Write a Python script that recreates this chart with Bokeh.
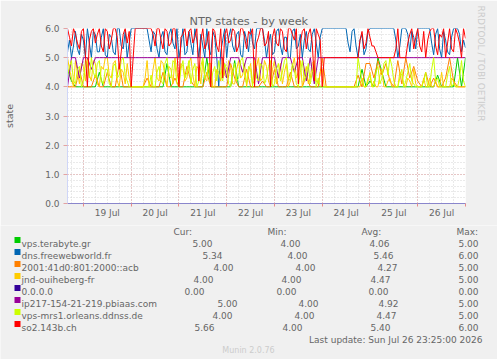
import pandas as pd
from bokeh.plotting import figure
from bokeh.layouts import column
from bokeh.models import Range1d, FixedTicker, Title
from bokeh.core.properties import value
from bokeh.embed import file_html
from bokeh.resources import INLINE

# ---------------- data ----------------
names = ["vps.terabyte.gr", "dns.freewebworld.fr", "2001:41d0:801:2000::acb",
         "jnd-ouiheberg-fr", "0.0.0.0", "ip217-154-21-219.pbiaas.com",
         "vps-mrs1.orleans.ddnss.de", "so2.143b.ch"]
colors = ["#00CC00", "#0066B3", "#FF8000", "#FFCC00", "#330099", "#990099", "#CCFF00", "#FF0000"]

cur_vals = ["5.00", "5.34", "4.00", "4.00", "0.00", "5.00", "4.00", "5.66"]
min_vals = ["4.00", "4.00", "4.00", "4.00", "0.00", "4.00", "4.00", "4.00"]
avg_vals = ["4.06", "5.46", "4.27", "4.47", "0.00", "4.92", "4.47", "5.40"]
max_vals = ["5.00", "6.00", "5.00", "5.00", "0.00", "5.00", "5.00", "6.00"]
headers = ["Cur:", "Min:", "Avg:", "Max:"]

day_labels = ["19 Jul", "20 Jul", "21 Jul", "22 Jul", "23 Jul", "24 Jul", "25 Jul", "26 Jul"]
y_labels = ["0.0", "1.0", "2.0", "3.0", "4.0", "5.0", "6.0"]

# 2-hourly samples from 2026-07-18 16:00 (101 values)
green = [4.6, 4.2, 4.0, 4.0, 4.0, 4.0, 4.0, 4.0, 4.5, 4.0,
         4.0, 4.0, 4.0, 4.0, 4.0, 4.0, 4.0, 4.0, 4.0, 4.0,
         4.0, 4.0, 4.0, 4.0, 4.0, 4.8, 4.0, 4.0, 4.0, 4.0,
         4.0, 4.0, 4.0, 4.0, 4.0, 5.0, 4.0, 4.0, 4.0, 4.0,
         4.0, 4.0, 4.9, 4.0, 4.0, 4.0, 4.0, 4.0, 4.0, 4.0,
         4.0, 4.0, 4.0, 4.0, 4.0, 4.0, 4.0, 4.0, 4.0, 4.0,
         4.0, 4.0, 4.0, 4.0, 4.0, 4.0, 4.0, 4.0, 4.0, 4.0,
         4.0, 4.0, 4.0, 4.0, 4.6, 4.0, 4.2, 4.0, 5.0, 4.5,
         4.0, 4.0, 4.0, 4.0, 4.0, 4.0, 4.0, 4.0, 4.0, 4.0,
         4.0, 4.0, 4.0, 4.4, 4.0, 4.0, 4.0, 4.0, 5.0, 4.0,
         5.0]
orange = [4.0, 4.0, 4.0, 4.6, 4.0, 4.0, 4.0, 4.4, 4.0, 4.0,
          4.5, 4.0, 4.0, 4.8, 4.0, 4.0, 4.0, 4.0, 4.0, 4.0,
          4.3, 4.0, 4.0, 4.0, 4.5, 4.0, 4.0, 4.3, 4.0, 4.0,
          4.7, 4.2, 4.0, 4.0, 4.0, 4.5, 4.0, 4.0, 4.0, 4.0,
          4.0, 4.8, 4.3, 4.0, 4.0, 4.6, 4.0, 4.0, 4.0, 4.2,
          4.0, 4.0, 4.6, 4.0, 4.0, 4.0, 4.5, 4.0, 4.0, 4.0,
          4.4, 4.0, 4.0, 4.0, 5.0, 4.0, 4.0, 4.0, 4.0, 4.0,
          4.0, 4.0, 4.0, 4.4, 4.0, 4.8, 4.8, 4.3, 4.9, 4.4,
          4.8, 4.2, 4.0, 4.9, 4.1, 5.0, 4.3, 4.7, 4.2, 4.0,
          4.5, 4.0, 4.3, 4.0, 4.0, 4.3, 5.0, 4.2, 4.0, 4.0,
          4.0]
indigo = [0.0, 0.0, 0.0, 0.0, 0.0, 0.0, 0.0, 0.0, 0.0, 0.0,
          0.0, 0.0, 0.0, 0.0, 0.0, 0.0, 0.0, 0.0, 0.0, 0.0,
          0.0, 0.0, 0.0, 0.0, 0.0, 0.0, 0.0, 0.0, 0.0, 0.0,
          0.0, 0.0, 0.0, 0.0, 0.0, 0.0, 0.0, 0.0, 0.0, 0.0,
          0.0, 0.0, 0.0, 0.0, 0.0, 0.0, 0.0, 0.0, 0.0, 0.0,
          0.0, 0.0, 0.0, 0.0, 0.0, 0.0, 0.0, 0.0, 0.0, 0.0,
          0.0, 0.0, 0.0, 0.0, 0.0, 0.0, 0.0, 0.0, 0.0, 0.0,
          0.0, 0.0, 0.0, 0.0, 0.0, 0.0, 0.0, 0.0, 0.0, 0.0,
          0.0, 0.0, 0.0, 0.0, 0.0, 0.0, 0.0, 0.0, 0.0, 0.0,
          0.0, 0.0, 0.0, 0.0, 0.0, 0.0, 0.0, 0.0, 0.0, 0.0,
          0.0]
purple = [4.0, 5.0, 5.0, 4.3, 5.0, 5.0, 4.6, 5.0, 5.0, 5.0,
          5.0, 5.0, 5.0, 5.0, 5.0, 5.0, 5.0, 5.0, 5.0, 5.0,
          5.0, 5.0, 5.0, 5.0, 5.0, 5.0, 5.0, 5.0, 5.0, 5.0,
          5.0, 5.0, 5.0, 5.0, 5.0, 5.0, 5.0, 5.0, 5.0, 5.0,
          4.3, 5.0, 5.0, 5.0, 4.5, 5.0, 5.0, 5.0, 4.1, 5.0,
          5.0, 5.0, 5.0, 4.3, 5.0, 5.0, 5.0, 4.5, 5.0, 5.0,
          4.2, 5.0, 4.1, 5.0, 5.0, 5.0, 5.0, 5.0, 5.0, 5.0,
          5.0, 5.0, 5.0, 5.0, 5.0, 5.0, 5.0, 5.0, 5.0, 5.0,
          5.0, 5.0, 5.0, 5.0, 5.0, 5.0, 5.0, 5.0, 5.0, 5.0,
          5.0, 5.0, 5.0, 5.0, 5.0, 5.0, 5.0, 5.0, 5.0, 5.0,
          5.0]

# hourly samples from 2026-07-18 16:00 (201 values)
blue = [5.2, 5.6, 5.0, 5.4, 5.9, 5.3, 5.1, 5.8, 5.6, 5.0, 6.0, 5.5, 5.0, 5.9, 5.8, 5.2, 5.2, 5.7, 6.0, 5.1,
        5.0, 5.8, 5.7, 5.2, 5.1, 6.0, 6.0, 5.4, 5.3, 5.9, 5.0, 5.5, 6.0, 6.0, 6.0, 6.0, 6.0, 6.0, 6.0, 6.0,
        6.0, 5.6, 5.2, 5.9, 5.8, 5.3, 5.0, 5.7, 5.9, 5.2, 5.1, 5.8, 6.0, 5.5, 5.3, 6.0, 5.0, 5.4, 6.0, 5.1,
        5.2, 5.9, 5.5, 5.1, 6.0, 5.6, 5.0, 5.8, 5.4, 5.0, 6.0, 5.3, 5.1, 5.9, 5.7, 5.0, 4.0, 5.2, 5.6, 6.0,
        5.0, 5.7, 6.0, 5.4, 5.2, 5.8, 5.9, 5.1, 5.0, 5.9, 5.6, 5.2, 6.0, 5.5, 5.3, 6.0, 6.0, 6.0, 6.0, 5.6,
        5.0, 5.5, 5.8, 5.1, 5.2, 5.9, 6.0, 5.4, 5.1, 5.7, 5.7, 5.0, 5.0, 5.9, 6.0, 5.3, 5.4, 5.8, 5.0, 5.6,
        5.9, 5.3, 5.2, 5.8, 6.0, 5.5, 5.0, 5.7, 6.0, 6.0, 6.0, 6.0, 6.0, 6.0, 6.0, 6.0, 6.0, 6.0, 6.0, 6.0,
        6.0, 5.5, 5.2, 5.9, 6.0, 5.4, 5.0, 5.6, 5.8, 5.1, 5.3, 5.9, 6.0, 6.0, 6.0, 6.0, 6.0, 6.0, 6.0, 6.0,
        6.0, 6.0, 6.0, 6.0, 6.0, 5.6, 5.0, 5.4, 6.0, 6.0, 6.0, 5.8, 5.2, 5.9, 5.7, 5.3, 6.0, 6.0, 6.0, 6.0,
        6.0, 6.0, 6.0, 5.5, 5.1, 5.8, 6.0, 5.3, 5.0, 5.9, 5.6, 5.2, 5.1, 5.7, 6.0, 6.0, 6.0, 5.8, 5.2, 5.6,
        5.34]
yellow = [5.0, 4.6, 4.3, 4.0, 4.9, 4.5, 4.1, 4.8, 4.7, 4.2, 5.0, 4.4, 4.2, 4.9, 4.8, 4.1, 4.0, 4.7, 4.6, 5.0,
          5.0, 4.4, 4.3, 4.8, 4.9, 4.2, 4.0, 4.6, 4.5, 4.1, 4.8, 4.3, 4.0, 4.0, 4.0, 4.0, 4.0, 4.0, 4.0, 4.3,
          4.9, 4.0, 4.0, 4.6, 5.0, 4.3, 4.2, 4.9, 4.8, 4.4, 4.0, 4.7, 4.6, 4.1, 5.0, 4.5, 4.1, 4.8, 4.7, 4.2,
          4.3, 4.8, 5.0, 4.4, 4.0, 4.7, 4.6, 4.1, 4.9, 4.3, 4.2, 4.8, 4.8, 4.0, 4.0, 4.6, 4.5, 4.2, 5.0, 4.4,
          4.3, 4.9, 4.7, 4.1, 4.1, 4.6, 4.9, 4.3, 4.4, 4.8, 4.0, 4.5, 4.8, 4.1, 4.2, 4.7, 5.0, 4.2, 4.3, 4.9,
          4.7, 4.2, 4.0, 4.6, 4.9, 4.1, 4.4, 4.8, 4.1, 4.5, 4.8, 4.0, 4.2, 4.7, 5.0, 4.3, 4.5, 4.9, 4.0, 4.4,
          4.7, 4.1, 4.3, 4.8, 4.9, 4.2, 4.1, 4.5, 4.6, 4.0, 4.0, 4.0, 4.0, 4.0, 4.0, 4.0, 4.0, 4.0, 4.0, 4.0,
          4.0, 4.0, 4.0, 4.0, 4.0, 4.0, 4.0, 4.0, 4.3, 4.0, 4.0, 4.2, 4.5, 4.0, 4.2, 4.0, 4.0, 4.4, 4.6, 4.0,
          4.0, 4.2, 4.3, 4.0, 4.0, 4.0, 4.0, 4.5, 4.4, 4.0, 4.0, 4.3, 4.2, 4.0, 4.6, 4.1, 4.0, 4.0, 4.0, 4.3,
          4.0, 4.0, 4.3, 4.0, 4.0, 4.2, 4.0, 4.0, 4.5, 4.0, 4.0, 4.0, 4.0, 4.3, 4.2, 4.0, 4.0, 4.0, 4.0, 4.0,
          4.0]
ygreen = [4.4, 4.7, 4.9, 4.2, 4.1, 4.6, 4.7, 4.0, 4.2, 4.9, 4.8, 4.3, 5.0, 4.5, 4.3, 4.8, 4.9, 4.2, 4.1, 4.6,
          4.6, 4.1, 4.0, 4.7, 4.8, 4.3, 4.4, 4.9, 5.0, 4.4, 4.2, 4.0, 4.0, 4.0, 4.0, 4.0, 4.0, 4.0, 4.0, 4.0,
          4.0, 4.0, 4.4, 4.0, 4.0, 4.5, 4.7, 4.2, 4.1, 4.8, 5.0, 4.4, 4.3, 4.9, 4.8, 4.1, 4.0, 4.6, 4.9, 4.3,
          4.5, 4.9, 4.1, 4.6, 4.8, 4.0, 4.2, 4.7, 5.0, 4.3, 4.4, 4.8, 4.0, 4.5, 4.7, 4.2, 4.9, 4.4, 4.2, 4.8,
          4.6, 4.1, 4.0, 4.5, 4.8, 4.2, 4.3, 4.9, 5.0, 4.4, 4.1, 4.7, 4.6, 4.0, 4.9, 4.3, 4.2, 4.8, 4.7, 4.1,
          4.3, 4.7, 4.9, 4.0, 4.1, 4.6, 4.8, 4.2, 4.5, 4.9, 5.0, 4.3, 4.2, 4.8, 4.6, 4.1, 4.0, 4.5, 4.9, 4.2,
          4.4, 4.8, 4.1, 4.5, 4.8, 4.0, 4.3, 4.0, 4.0, 4.0, 4.0, 4.0, 4.0, 4.0, 4.0, 4.0, 4.0, 4.0, 4.0, 4.0,
          4.0, 4.0, 4.0, 4.0, 4.0, 4.0, 5.0, 4.6, 4.2, 4.0, 4.0, 4.3, 4.4, 4.0, 4.0, 4.5, 4.7, 4.1, 4.3, 4.8,
          4.9, 4.4, 5.0, 4.7, 4.2, 4.0, 4.0, 4.3, 4.6, 4.0, 4.2, 4.5, 4.8, 4.2, 4.1, 4.0, 4.0, 4.0, 4.0, 4.2,
          4.5, 4.0, 4.0, 4.6, 5.0, 4.2, 4.3, 4.0, 4.0, 4.0, 4.0, 4.4, 4.7, 4.0, 4.1, 4.0, 4.0, 4.3, 4.9, 4.2,
          4.0]
red = [6.0, 5.7, 5.4, 6.0, 5.8, 5.5, 5.3, 5.9, 6.0, 5.1, 4.0, 5.6, 5.9, 6.0, 5.5, 5.8, 6.0, 5.4, 5.2, 6.0,
       5.9, 5.3, 5.6, 6.0, 6.0, 5.7, 4.6, 5.2, 5.8, 6.0, 5.5, 5.9, 4.0, 5.0, 6.0, 6.0, 6.0, 6.0, 6.0, 6.0,
       6.0, 6.0, 6.0, 5.8, 5.4, 6.0, 6.0, 5.6, 5.3, 6.0, 5.9, 5.4, 5.5, 6.0, 6.0, 5.2, 4.0, 5.7, 5.8, 6.0,
       5.4, 5.9, 6.0, 5.5, 5.7, 6.0, 4.2, 5.6, 6.0, 5.3, 5.5, 5.9, 4.0, 6.0, 5.9, 5.4, 5.2, 6.0, 4.3, 5.8,
       6.0, 5.5, 5.6, 6.0, 5.9, 5.2, 5.4, 6.0, 6.0, 5.7, 5.3, 5.9, 5.8, 6.0, 4.0, 5.5, 5.7, 6.0, 6.0, 5.4,
       5.5, 5.9, 4.0, 5.7, 6.0, 5.5, 5.4, 6.0, 5.9, 5.3, 5.2, 6.0, 6.0, 5.8, 5.6, 6.0, 4.1, 5.5, 5.9, 6.0,
       5.3, 5.8, 6.0, 5.5, 4.2, 6.0, 5.8, 5.6, 4.0, 5.0, 5.0, 5.0, 5.0, 5.0, 5.0, 5.0, 5.0, 5.0, 5.0, 5.0,
       5.0, 5.0, 5.0, 5.0, 5.0, 5.0, 5.0, 5.6, 5.9, 5.3, 5.5, 6.0, 5.7, 5.4, 5.4, 5.2, 5.0, 5.0, 5.0, 5.0,
       5.0, 5.0, 5.0, 5.0, 5.0, 5.3, 6.0, 5.0, 5.0, 5.0, 5.0, 5.5, 5.8, 6.0, 5.3, 5.7, 6.0, 5.4, 5.2, 5.9,
       5.0, 5.6, 5.9, 6.0, 6.0, 5.4, 5.1, 5.8, 5.7, 6.0, 5.0, 5.5, 6.0, 5.3, 5.2, 6.0, 5.8, 5.5, 5.0, 6.0,
       5.66]

series_2h = {0: green, 2: orange, 4: indigo, 5: purple}
series_1h = {1: blue, 3: yellow, 6: ygreen, 7: red}
last_update = "Last update: Sun Jul 26 23:25:00 2026"

# ---------------- chart ----------------
FONT = "DejaVu Sans"
TXT = "#666666"
HOUR = 3600 * 1000


def ms(s):
    return int((pd.Timestamp(s) - pd.Timestamp("1970-01-01")) // pd.Timedelta("1ms"))


t0 = ms("2026-07-18 16:00")
t1 = ms("2026-07-27 00:00")
midnights = [ms("2026-07-19") + d * 24 * HOUR for d in range(9)]
noons = [m + 12 * HOUR for m in midnights[:8]]
quarters = [ms("2026-07-18 18:00") + k * 6 * HOUR for k in range(34)]

p = figure(width=497, height=225, x_axis_type="datetime",
           x_range=Range1d(t0, t1), y_range=Range1d(0, 6),
           output_backend="svg", toolbar_location=None,
           title="NTP states - by week",
           min_border_left=67, min_border_right=30, min_border_top=28, min_border_bottom=22,
           background_fill_color="#FFFFFF", border_fill_color="#F0F0F0",
           outline_line_color=None)
p.frame_align = False

p.title.align = "left"
p.title.offset = 122
p.title.standoff = 1
p.title.text_font = FONT
p.title.text_font_size = "11.3px"
p.title.text_font_style = "normal"
p.title.text_color = TXT

p.add_layout(Title(text="RRDTOOL / TOBI OETIKER", align="left", offset=-23, standoff=20,
                   text_font=FONT, text_font_size="9px", text_font_style="normal",
                   text_color="#CCCCCC"), "right")

# grids
p.xgrid.ticker = FixedTicker(ticks=midnights, minor_ticks=quarters)
p.ygrid.ticker = FixedTicker(ticks=[0, 1, 2, 3, 4, 5, 6],
                             minor_ticks=[k / 5 for k in range(31)])
for g in (p.xgrid[0], p.ygrid[0]):
    g.grid_line_color = "#E3A3A3"
    g.grid_line_dash = "1 2"
    g.minor_grid_line_color = "#D4D4D4"
    g.minor_grid_line_dash = "1 2"

# axes
xa = p.xaxis[0]
xa.ticker = FixedTicker(ticks=noons, minor_ticks=midnights)
xa.major_label_overrides = {n: lab for n, lab in zip(noons, day_labels)}
xa.major_tick_line_color = None
xa.major_tick_out = 0
xa.major_tick_in = 0
xa.minor_tick_line_color = "#E88A8A"
xa.minor_tick_out = 3
xa.minor_tick_in = 0
xa.major_label_standoff = 1
xa.axis_line_color = "#8A86CC"

ya = p.yaxis[0]
ya.ticker = FixedTicker(ticks=[0, 1, 2, 3, 4, 5, 6])
ya.major_label_overrides = {i: lab for i, lab in enumerate(y_labels)}
ya.major_tick_line_color = "#E3A3A3"
ya.major_tick_out = 4
ya.major_tick_in = 0
ya.minor_tick_line_color = None
ya.major_label_standoff = 4
ya.axis_label = "state"
ya.axis_label_standoff = 27
ya.axis_label_text_font = FONT
ya.axis_label_text_font_size = "9.5px"
ya.axis_label_text_font_style = "normal"
ya.axis_label_text_color = TXT
ya.axis_line_color = "#CFD6F8"

for ax in (xa, ya):
    ax.major_label_text_color = TXT
    ax.major_label_text_font = FONT
    ax.major_label_text_font_size = "9px"

# series lines in munin drawing order
times_2h = [t0 + i * 2 * HOUR for i in range(len(green))]
times_1h = [t0 + i * HOUR for i in range(len(red))]
for k, c in enumerate(colors):
    if k in series_2h:
        p.line(times_2h, series_2h[k], line_color=c, line_width=1)
    else:
        p.line(times_1h, series_1h[k], line_color=c, line_width=1)

# ---------------- legend panel (pixel coordinates) ----------------
TOP = 225
pb = figure(width=497, height=359 - TOP, x_range=Range1d(0, 497), y_range=Range1d(359, TOP),
            output_backend="svg", toolbar_location=None, min_border=0,
            min_border_left=0, min_border_right=0, min_border_top=0, min_border_bottom=0,
            background_fill_color="#F0F0F0", border_fill_color="#F0F0F0",
            outline_line_color=None, x_axis_location=None, y_axis_location=None)
pb.frame_align = False
pb.grid.visible = False

hdr_x = [173, 267, 361, 456]
cur_x = [192, 202, 213, 193, 184, 217, 212, 194]
min_x = [280, 287, 295, 281, 276, 298, 294, 282]
avg_x = [369, 373, 377, 370, 368, 378, 376, 370]
max_x = [458, 458, 458, 458, 458, 458, 458, 458]
row_y = [243 + 12 * k for k in range(len(names))]

tx, ty, tt = [], [], []
for hx, h in zip(hdr_x, headers):
    tx.append(hx); ty.append(231); tt.append(h)
for k in range(len(names)):
    for xx, s in ((21, names[k]), (cur_x[k], cur_vals[k]), (min_x[k], min_vals[k]),
                  (avg_x[k], avg_vals[k]), (max_x[k], max_vals[k])):
        tx.append(xx); ty.append(row_y[k]); tt.append(s)

pb.text(x=tx, y=ty, text=tt, text_font=value(FONT), text_font_size=value("9px"),
        text_color=TXT, text_align="left", text_baseline="alphabetic")
pb.quad(left=[14] * len(names), right=[20] * len(names),
        top=[y - 6.5 for y in row_y], bottom=[y - 0.5 for y in row_y],
        fill_color=colors, line_color=None)
pb.text(x=[482], y=[339], text=[last_update], text_font=value(FONT),
        text_font_size=value("9px"), text_color=TXT, text_align="right",
        text_baseline="alphabetic")
pb.text(x=[248], y=[350], text=["Munin 2.0.76"], text_font=value(FONT),
        text_font_size=value("8px"), text_color="#CCCCCC", text_align="center",
        text_baseline="alphabetic")

layout = column(p, pb, spacing=0)
open("out.html", "w").write(file_html(layout, INLINE))
